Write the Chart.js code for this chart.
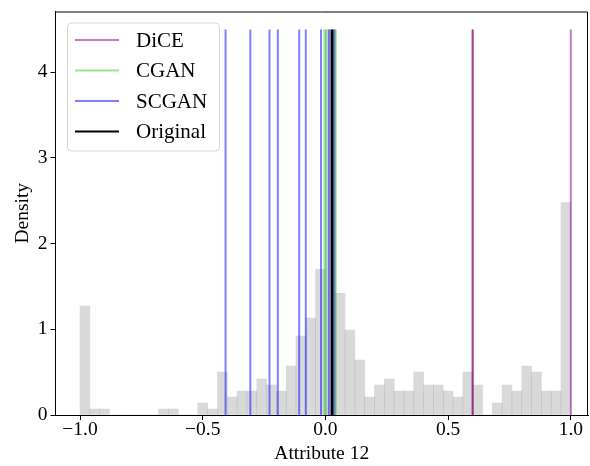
<!DOCTYPE html>
<html lang="en">
<head>
  <meta charset="UTF-8" />
  <title>Attribute 12 density</title>
  <script src="https://cdn.jsdelivr.net/npm/chart.js"></script>
  <style>
    body { margin: 0; background: #fff; }
    #wrap { width: 590px; height: 466px; }
  </style>
</head>
<body>
  <div id="wrap"><canvas id="chart"></canvas></div>

  <script>
    // histogram bins (centres, width 0.04) and density
    const binCenters = [-0.98, -0.94, -0.90, -0.86, -0.82, -0.78, -0.74, -0.70, -0.66, -0.62,
                        -0.58, -0.54, -0.50, -0.46, -0.42, -0.38, -0.34, -0.30, -0.26, -0.22,
                        -0.18, -0.14, -0.10, -0.06, -0.02, 0.02, 0.06, 0.10, 0.14, 0.18,
                        0.22, 0.26, 0.30, 0.34, 0.38, 0.42, 0.46, 0.50, 0.54, 0.58,
                        0.62, 0.66, 0.70, 0.74, 0.78, 0.82, 0.86, 0.90, 0.94, 0.98];
    const density = [1.27, 0.07, 0.07, 0, 0, 0, 0, 0, 0.07, 0.07,
                     0, 0, 0.14, 0.07, 0.50, 0.21, 0.28, 0.28, 0.42, 0.35,
                     0.28, 0.57, 0.92, 1.13, 1.70, 4.50, 1.42, 0.99, 0.64, 0.21,
                     0.35, 0.42, 0.28, 0.28, 0.50, 0.35, 0.35, 0.28, 0.21, 0.50,
                     0.35, 0, 0.14, 0.35, 0.28, 0.57, 0.50, 0.28, 0.28, 2.48];

    // counterfactual values drawn as vertical lines
    const diceValues = [0.6, 0.6, 1.0];
    const cganValues = [-0.004, 0.002, 0.042];
    const scganValues = [-0.407, -0.306, -0.228, -0.194, -0.107, -0.080, -0.018, 0.014, 0.037];
    const originalValue = [0.027];
    const lineTop = 4.5;

    const xTicks = [-1.0, -0.5, 0.0, 0.5, 1.0];
    const yTicks = [0, 1, 2, 3, 4];

    const series = [
      { label: 'DiCE', values: diceValues, color: 'rgba(128,0,128,0.5)', width: 2 },
      { label: 'CGAN', values: cganValues, color: 'rgba(50,205,50,0.5)', width: 2 },
      { label: 'SCGAN', values: scganValues, color: 'rgba(0,0,255,0.5)', width: 2 },
      { label: 'Original', values: originalValue, color: '#000', width: 3 }
    ];

    const FONT = "'Liberation Serif', 'DejaVu Serif', serif";

    const datasets = [{
      type: 'bar',
      label: 'hist',
      data: binCenters.map((c, i) => ({ x: c, y: density[i] })),
      backgroundColor: 'rgba(128,128,128,0.3)',
      borderWidth: 0,
      barPercentage: 1.0,
      categoryPercentage: 1.0,
      order: 10
    }];
    series.forEach(s => {
      s.values.forEach(v => {
        datasets.push({
          type: 'line',
          label: s.label,
          data: [{ x: v, y: 0 }, { x: v, y: lineTop }],
          borderColor: s.color,
          borderWidth: s.width,
          pointRadius: 0,
          fill: false,
          order: 1
        });
      });
    });

    const boxAndLegend = {
      id: 'boxAndLegend',
      afterDatasetsDraw(chart) {
        const { ctx, chartArea: a } = chart;
        ctx.save();
        // top and right spines
        ctx.strokeStyle = '#000';
        ctx.lineWidth = 1;
        ctx.beginPath();
        ctx.moveTo(a.left, a.top + 0.5);
        ctx.lineTo(a.right - 0.5, a.top + 0.5);
        ctx.lineTo(a.right - 0.5, a.bottom);
        ctx.stroke();

        // legend frame
        const bx = 67, by = 22.5, bw = 152, bh = 128, r = 4;
        ctx.beginPath();
        ctx.roundRect(bx + 0.5, by + 0.5, bw, bh, r);
        ctx.fillStyle = 'rgba(255,255,255,0.8)';
        ctx.fill();
        ctx.lineWidth = 1;
        ctx.strokeStyle = 'rgba(204,204,204,0.8)';
        ctx.stroke();

        ctx.font = '21px ' + FONT;
        ctx.textBaseline = 'middle';
        series.forEach((s, i) => {
          const y = 40 + i * 30.5;
          ctx.strokeStyle = s.color;
          ctx.lineWidth = 2;
          ctx.beginPath();
          ctx.moveTo(75, y);
          ctx.lineTo(119, y);
          ctx.stroke();
          ctx.fillStyle = '#000';
          ctx.fillText(s.label, 136, y + 1);
        });
        ctx.restore();
      }
    };

    new Chart(document.getElementById('chart'), {
      type: 'bar',
      data: { datasets },
      options: {
        responsive: true,
        maintainAspectRatio: false,
        animation: false,
        layout: { padding: { top: 11.5, right: 2, left: 0, bottom: 0 } },
        plugins: { legend: { display: false }, tooltip: { enabled: false } },
        scales: {
          x: {
            type: 'linear',
            offset: false,
            min: -1.1,
            max: 1.07,
            afterBuildTicks: s => { s.ticks = xTicks.map(v => ({ value: v })); },
            afterFit: s => { s.height = 51; },
            grid: { display: true, drawOnChartArea: false, tickLength: 5, color: '#000', offset: false },
            border: { color: '#000', width: 1 },
            ticks: {
              color: '#000',
              font: { family: FONT, size: 19.5 },
              padding: -2,
              maxRotation: 0,
              callback: v => v.toFixed(1).replace('-', '\u2212')
            },
            title: {
              display: true,
              text: 'Attribute 12',
              color: '#000',
              font: { family: FONT, size: 19.5 },
              padding: { top: 0, bottom: 0 }
            }
          },
          y: {
            type: 'linear',
            min: 0,
            max: 4.71,
            afterBuildTicks: s => { s.ticks = yTicks.map(v => ({ value: v })); },
            afterFit: s => { s.width = 55.5; s.paddingTop = 0; s.paddingBottom = 0; },
            grid: { display: true, drawOnChartArea: false, tickLength: 5, color: '#000' },
            border: { color: '#000', width: 1 },
            ticks: {
              color: '#000',
              font: { family: FONT, size: 19.5, lineHeight: 0.6 },
              padding: 3
            },
            title: {
              display: true,
              text: 'Density',
              color: '#000',
              font: { family: FONT, size: 19.5 },
              padding: { top: 11, bottom: 0 }
            }
          }
        }
      },
      plugins: [boxAndLegend]
    });
  </script>
</body>
</html>
